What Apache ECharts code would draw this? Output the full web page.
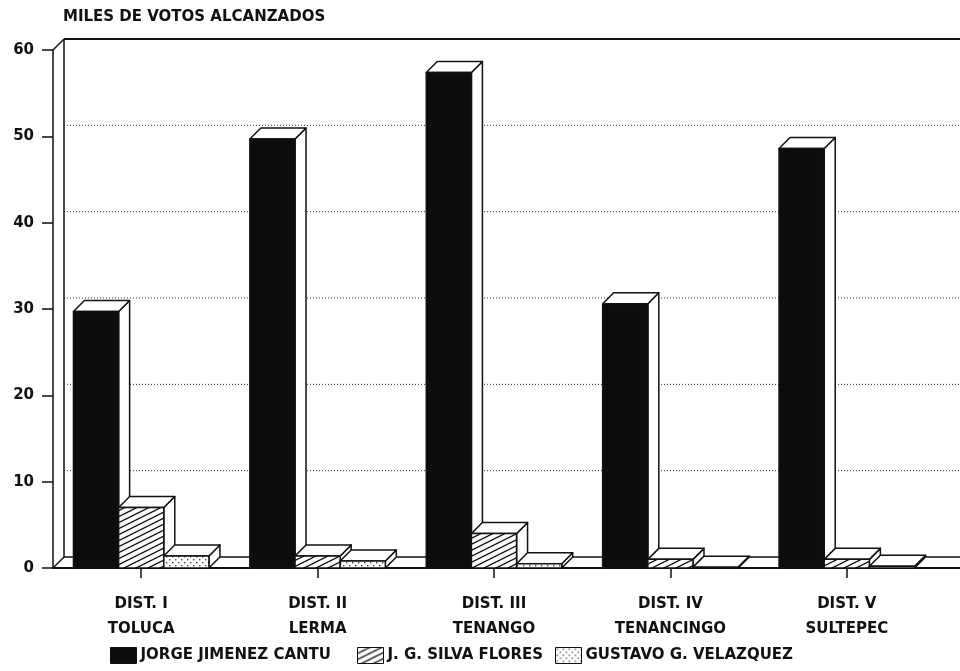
<!DOCTYPE html>
<html><head><meta charset="utf-8">
<script src="https://cdn.jsdelivr.net/npm/echarts@6/dist/echarts.min.js"></script>
<style>html,body{margin:0;padding:0;background:#fff}#c{width:960px;height:671px}</style>
</head><body><div id="c"></div>
<script>
var categories = ['DIST. I\nTOLUCA','DIST. II\nLERMA','DIST. III\nTENANGO','DIST. IV\nTENANCINGO','DIST. V\nSULTEPEC'];
var seriesNames = ['JORGE JIMENEZ CANTU','J. G. SILVA FLORES','GUSTAVO G. VELAZQUEZ'];
var jorge = [29.7, 49.7, 57.4, 30.6, 48.6];
var silva = [7.0, 1.4, 4.0, 1.0, 1.0];
var gustavo = [1.4, 0.8, 0.5, 0.1, 0.2];
var yTicks = [0, 10, 20, 30, 40, 50, 60];
var axisTitle = 'MILES DE VOTOS ALCANZADOS';

var FONT = 'DejaVu Sans';
var INK = '#111';
var BAR_RATIO = 0.256;
var DEPTH = 11;
var LEGEND_LEFT = [110, 357, 555];

function hatchPattern(){
  var c = document.createElement('canvas'); c.width = 12; c.height = 6;
  var g = c.getContext('2d'); g.fillStyle = '#fff'; g.fillRect(0,0,12,6);
  g.strokeStyle = INK; g.lineWidth = 1.3;
  for (var k=-1;k<=1;k++){ g.beginPath(); g.moveTo(-12, 12+6*k); g.lineTo(24, -6+6*k); g.stroke(); }
  return {image:c, repeat:'repeat'};
}
function dotPattern(){
  var c = document.createElement('canvas'); c.width = 6; c.height = 6;
  var g = c.getContext('2d'); g.fillStyle = '#fff'; g.fillRect(0,0,6,6);
  g.fillStyle = '#444'; g.fillRect(1,1,1.4,1.4); g.fillRect(4,4,1.4,1.4);
  return {image:c, repeat:'repeat'};
}
var fills = ['#0c0c0c', hatchPattern(), dotPattern()];
var values = [jorge, silva, gustavo];

function barRender(si){
  return function(params, api){
    var cat = api.value(0), val = api.value(1);
    var base = api.coord([cat, 0]);
    var top = api.coord([cat, val]);
    var band = api.size([1, 0])[0];
    var w = band * BAR_RATIO;
    var x0 = base[0] - 1.5*w + si*w, x1 = x0 + w;
    var yb = base[1], yt = top[1], d = DEPTH;
    var ls = {stroke: INK, lineWidth: 1.5, lineJoin:'round'};
    return {type:'group', children:[
      {type:'polygon', shape:{points:[[x1,yt],[x1+d,yt-d],[x1+d,yb-d],[x1,yb]]}, style:Object.assign({fill:'#fff'}, ls)},
      {type:'polygon', shape:{points:[[x0,yt],[x0+d,yt-d],[x1+d,yt-d],[x1,yt]]}, style:Object.assign({fill:'#fff'}, ls)},
      {type:'rect', shape:{x:x0, y:yt, width:w, height:yb-yt}, style:Object.assign({fill:fills[si]}, ls)}
    ]};
  };
}

function wallRender(params, api){
  var cs = params.coordSys, d = DEPTH;
  var left = cs.x, right = cs.x + cs.width + 40;
  var y0 = api.coord([0, yTicks[0]])[1];
  var yTop = api.coord([0, yTicks[yTicks.length-1]])[1];
  var solid = {stroke: INK, lineWidth: 1.5};
  var ch = [
    {type:'line', shape:{x1:left+d, y1:yTop-d, x2:right, y2:yTop-d}, style:{stroke:INK, lineWidth:2}},
    {type:'line', shape:{x1:left+d, y1:yTop-d, x2:left+d, y2:y0-d}, style:solid},
    {type:'line', shape:{x1:left, y1:yTop, x2:left+d, y2:yTop-d}, style:solid},
    {type:'line', shape:{x1:left+d, y1:y0-d, x2:right, y2:y0-d}, style:solid},
    {type:'line', shape:{x1:left, y1:y0, x2:left+d, y2:y0-d}, style:solid},
    {type:'line', shape:{x1:left, y1:y0, x2:right, y2:y0}, style:{stroke:INK, lineWidth:2}}
  ];
  for (var i=1;i<yTicks.length-1;i++){
    var y = api.coord([0, yTicks[i]])[1];
    ch.push({type:'line', shape:{x1:left+d, y1:y-d, x2:right, y2:y-d}, style:{stroke:'#333', lineWidth:1, lineDash:[1,2]}});
  }
  return {type:'group', children: ch};
}

var series = [{type:'custom', name:'walls', renderItem: wallRender, data:[[0,0]], z:1, silent:true, clip:false}];
for (var s=0;s<3;s++){
  series.push({
    type:'custom', name: seriesNames[s], renderItem: barRender(s), z: 2+s, clip:false,
    itemStyle:{color: fills[s], borderColor: INK, borderWidth: 1.5},
    data: values[s].map(function(v,i){ return [i, v]; })
  });
}

var legends = seriesNames.map(function(n,i){
  return {left: LEGEND_LEFT[i], top:647, itemWidth:26, itemHeight:16, icon:'rect', padding:0,
    textStyle:{fontFamily:FONT, fontSize:15, fontWeight:'bold', color:INK, padding:[0,0,0,-1]},
    data:[{name:n, itemStyle:{color:fills[i], borderColor:INK, borderWidth:1}}]};
});

var chart = echarts.init(document.getElementById('c'), null, {renderer:'canvas'});
chart.setOption({
  animation:false,
  backgroundColor:'#fff',
  title:{text: axisTitle, left: 58, top: 5, textStyle:{fontFamily:FONT, fontSize:15, fontWeight:'bold', color:INK}},
  grid:{left:53, right:25, top:50, bottom:103, containLabel:false},
  xAxis:{type:'category', data:categories,
    axisLine:{show:true, lineStyle:{color:INK, width:2}},
    axisTick:{show:true, alignWithLabel:true, length:10, lineStyle:{color:INK, width:1.5}},
    axisLabel:{margin:24, lineHeight:25, fontFamily:FONT, fontSize:15, fontWeight:'bold', color:INK, align:'center'},
    splitLine:{show:false}},
  yAxis:{type:'value', min:0, max:60, interval:10,
    axisLine:{show:true, lineStyle:{color:INK, width:1.5}},
    axisTick:{show:true, length:11, lineStyle:{color:INK, width:1.5}},
    axisLabel:{margin:19, fontFamily:FONT, fontSize:15, fontWeight:'bold', color:INK},
    splitLine:{show:false}},
  legend: legends,
  series: series
});
</script></body></html>
